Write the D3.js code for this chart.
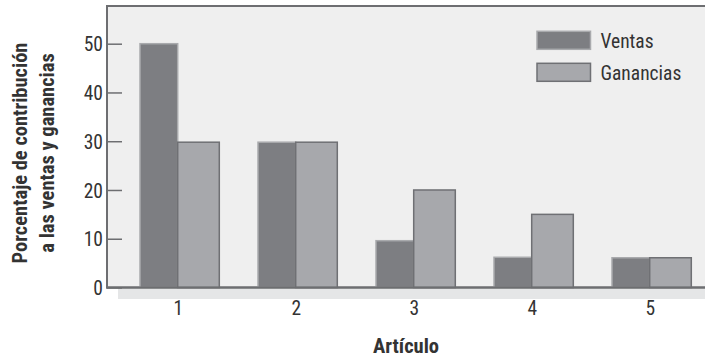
<!DOCTYPE html>
<html><head><meta charset="utf-8">
<script src="https://cdn.jsdelivr.net/npm/d3@7"></script>
<style>
body{margin:0;background:#fff;}
text{font-family:"Liberation Sans Narrow","Roboto Condensed","Liberation Sans",sans-serif;}
</style></head>
<body><svg id="c" width="705" height="359"></svg>
<script>
const categories = ["1","2","3","4","5"];
const seriesNames = ["Ventas","Ganancias"];
const ventas = [50, 29.8, 9.6, 6.2, 6.1];
const ganancias = [29.8, 29.8, 20, 15, 6.1];
const yTicks = [0,10,20,30,40,50];
const xTitle = "Artículo";
const yTitle = ["Porcentaje de contribución","a las ventas y ganancias"];

const svg = d3.select("#c");
const fills = {Ventas:"#7d7e82", Ganancias:"#a7a8ac"};
const strokes = {Ventas:"#a9aaad", Ganancias:"#6f7074"};

const y = d3.scaleLinear().domain([0,50]).range([287.5,43.7]);
const x = d3.scalePoint().domain(categories).range([177.7,649.7]);
const frameL = 107, frameT = 6, frameB = y(0);

svg.append("rect").attr("x",118).attr("y",frameB).attr("width",600).attr("height",11.5).attr("fill","#e5e6e7");
svg.append("rect").attr("x",frameL).attr("y",frameT).attr("width",620).attr("height",frameB-frameT)
  .attr("fill","#efefef").attr("stroke","#6d6e71").attr("stroke-width",2);

const offs = {Ventas:[-37.7,0], Ganancias:[0,41.6]};
const data = [];
categories.forEach((c,i)=>{
  data.push({c, s:"Ventas", v:ventas[i]});
  data.push({c, s:"Ganancias", v:ganancias[i]});
});
svg.append("g").selectAll("rect").data(data).join("rect")
  .attr("x",d=>x(d.c)+offs[d.s][0])
  .attr("width",d=>offs[d.s][1]-offs[d.s][0])
  .attr("y",d=>y(d.v))
  .attr("height",d=>y(0)-y(d.v))
  .attr("fill",d=>fills[d.s])
  .attr("stroke",d=>strokes[d.s])
  .attr("stroke-width",1.5);

svg.append("line").attr("x1",frameL).attr("x2",720).attr("y1",frameB).attr("y2",frameB).attr("stroke","#6d6e71").attr("stroke-width",2);
svg.append("line").attr("x1",frameL).attr("x2",frameL).attr("y1",frameT).attr("y2",frameB+1).attr("stroke","#6d6e71").attr("stroke-width",2);

const yAxis = d3.axisRight(y).tickValues(yTicks).tickSize(15).tickFormat(d3.format("d"));
const gy = svg.append("g").attr("transform",`translate(${frameL},0)`).call(yAxis);
gy.select(".domain").remove();
gy.selectAll(".tick line").attr("stroke","#6d6e71").attr("stroke-width",1.5);
gy.selectAll(".tick text").attr("x",-4).attr("text-anchor","end").attr("fill","#333")
  .style("font-size","19.5px").attr("dy","0.36em");

const xAxis = d3.axisBottom(x).tickSize(0);
const gx = svg.append("g").attr("transform",`translate(0,${frameB})`).call(xAxis);
gx.select(".domain").remove();
gx.selectAll(".tick text").attr("y",14).attr("dy","0.71em").attr("fill","#333").style("font-size","19.5px");

svg.append("text").attr("x",406).attr("y",353).attr("text-anchor","middle")
  .style("font-size","20.5px").style("font-weight","bold").attr("fill","#333").text(xTitle);
const yt = svg.append("text").attr("transform","translate(0,153) rotate(-90)").attr("text-anchor","middle")
  .style("font-size","20.5px").style("font-weight","bold").attr("fill","#333");
yt.append("tspan").attr("x",0).attr("y",27).text(yTitle[0]);
yt.append("tspan").attr("x",0).attr("y",54).text(yTitle[1]);

const lg = svg.append("g");
seriesNames.forEach((s,i)=>{
  const yy = 31.3 + i*32;
  lg.append("rect").attr("x",537).attr("y",yy).attr("width",53.5).attr("height",18)
    .attr("fill",fills[s]).attr("stroke",strokes[s]).attr("stroke-width",1.5);
  lg.append("text").attr("x",600.5).attr("y",yy+16.5).style("font-size","19.5px").attr("fill","#333").text(s);
});
</script></body></html>
